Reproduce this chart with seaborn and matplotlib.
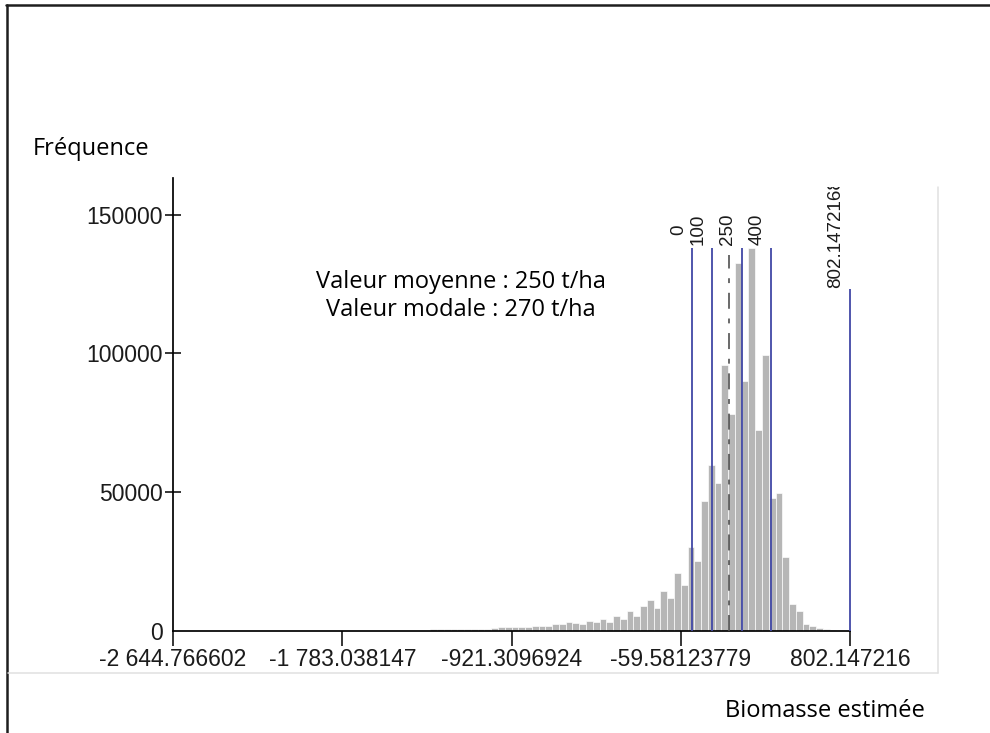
import numpy as np
import pandas as pd
import matplotlib
matplotlib.use("Agg")
import matplotlib.pyplot as plt
from matplotlib.lines import Line2D
from matplotlib.transforms import Bbox, TransformedBbox, offset_copy
import seaborn as sns

# histogram of estimated biomass: 100 equal bins between min and max
x_min = -2644.766602
x_max = 802.147216
n_bins = 100
counts = [0] * 36 + [
    0, 0, 700, 500, 500, 600, 600, 600, 600, 700,
    700, 900, 1300, 1300, 1300, 1100, 1100, 1500, 1600, 1600,
    2200, 2200, 3100, 2700, 2500, 3400, 2900, 4000, 3100, 5200,
    4000, 6900, 5200, 9000, 11000, 8300, 14400, 11900, 20600, 16400,
    30300, 25100, 46700, 59700, 53100, 95800, 78300, 132500, 90200, 137900,
    72200, 99600, 48000, 49500, 26700, 9700, 7000, 2300, 1600, 900,
    400, 200,
] + [0, 0]

xtick_values = [-2644.766602, -1783.038147, -921.3096924, -59.58123779, 802.147216]
xtick_labels = ["-2 644.766602", "-1 783.038147", "-921.3096924", "-59.58123779", "802.147216"]
ytick_values = [0, 50000, 100000, 150000]

marker_values = [0, 100, 250, 400, 802.147216]
marker_heights = [138000, 138000, 138000, 138000, 123300]
marker_labels = ["0", "100", "250", "400", "802.1472168"]
marker_label_y = [142800, 139200, 139200, 139200, 123700]
dash_value = 186
dash_height = 135600

BAR = "#b6b6b6"
BLUE = "#4148a6"
W, H = 990, 733

sns.set_style("ticks")
plt.rcParams["font.family"] = ["Liberation Sans", "DejaVu Sans"]
plt.rcParams["lines.scale_dashes"] = False

fig = plt.figure(figsize=(W / 100, H / 100), dpi=100)
ax = fig.add_axes([173 / W, (H - 630.5) / H, 677 / W, 452.5 / H])

width = (x_max - x_min) / n_bins
hist = pd.DataFrame({"biomasse": x_min + width * (np.arange(n_bins) + 0.5),
                     "freq": counts})
sns.histplot(data=hist, x="biomasse", weights="freq", bins=n_bins,
             binrange=(x_min, x_max), color=BAR, edgecolor="white",
             linewidth=0.45, alpha=1, ax=ax)

ax.vlines(marker_values, 0, marker_heights, color=BLUE, linewidth=1.3,
          zorder=3, clip_on=False)
ax.vlines([dash_value], 0, [dash_height], color="#505050", linewidth=1.2,
          linestyles=[(0, (11.5, 7, 3.5, 7))], zorder=3)

clip_top = TransformedBbox(Bbox([[0, 0], [938 / W, 1 - 187 / H]]), fig.transFigure)
shift = offset_copy(ax.transData, fig=fig, x=-14, units="dots")
for v, y, lab in zip(marker_values, marker_label_y, marker_labels):
    t = ax.text(v, y, lab, transform=shift, rotation=90,
                ha="center", va="bottom", fontsize=13.5, color="#1b1b1b")
    t.set_clip_box(clip_top)
    t.set_clip_on(True)

ax.set_xlim(x_min, x_max)
ax.set_ylim(0, 163350)
ax.set_xticks(xtick_values, xtick_labels)
ax.set_yticks(ytick_values, [str(v) for v in ytick_values])
ax.set_xlabel("")
ax.set_ylabel("")
sns.despine(ax=ax)
for s in ("left", "bottom"):
    ax.spines[s].set_linewidth(1.25)
    ax.spines[s].set_color("black")
ax.tick_params(axis="y", direction="inout", length=11.5, width=1.1, pad=1.5,
               labelsize=16.5, labelcolor="#1b1b1b", color="black")
ax.tick_params(axis="x", direction="out", length=11, width=1.1, pad=1.5,
               labelsize=16.5, labelcolor="#1b1b1b", color="black")
ax.yaxis.get_major_ticks()[0].tick1line.set_visible(False)

txt = dict(family=["Open Sans", "DejaVu Sans"], color="black")
fig.text(33 / W, 1 - 155 / H, "Fréquence", ha="left", va="baseline", fontsize=17, **txt)
fig.text(925 / W, 1 - 717 / H, "Biomasse estimée", ha="right", va="baseline", fontsize=17, **txt)
fig.text(461 / W, 1 - 282 / H, "Valeur moyenne : 250 t/ha", ha="center", va="center", fontsize=17, **txt)
fig.text(461 / W, 1 - 310 / H, "Valeur modale : 270 t/ha", ha="center", va="center", fontsize=17, **txt)

# outer frame (top and left) and light panel border
fig.add_artist(Line2D([6 / W, 1], [1 - 5 / H, 1 - 5 / H], color="#1e1e1e", linewidth=1.8))
fig.add_artist(Line2D([7 / W, 7 / W], [0, 1 - 5 / H], color="#1e1e1e", linewidth=1.8))
fig.add_artist(Line2D([938 / W, 938 / W], [1 - 187 / H, 1 - 673 / H], color="#e0e0e0", linewidth=1.1))
fig.add_artist(Line2D([8 / W, 938 / W], [1 - 673 / H, 1 - 673 / H], color="#e0e0e0", linewidth=1.1))

fig.savefig("out.png", dpi=100)
